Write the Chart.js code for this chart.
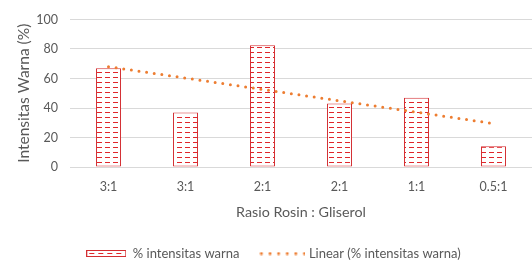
<!DOCTYPE html>
<html>
<head>
<meta charset="utf-8">
<script src="https://cdn.jsdelivr.net/npm/chart.js@4"></script>
<style>
  html, body { margin: 0; padding: 0; background: #fff; }
  #wrap { width: 532px; height: 264px; }
</style>
</head>
<body>
<div id="wrap"><canvas id="grafica" width="532" height="264"></canvas></div>
<script>
(() => {
    // datos
    const rasio = ['3:1', '3:1', '2:1', '2:1', '1:1', '0.5:1'];
    const intensitas = [67, 37, 82.5, 43, 47, 14];
    const tendencia = [68, null, null, null, null, 29.5];   // extremos de la línea de tendencia
    const ticksY = [0, 20, 40, 60, 80, 100];

    const rojo = '#D42F33';
    const rojoGuion = '#E0262B';
    const naranja = '#ED7D31';
    const gris = '#595959';

    const canvas = document.getElementById('grafica');
    const ctx = canvas.getContext('2d');

    // patrón de guiones horizontales para el relleno de las barras
    function patronGuiones() {
        const c = document.createElement('canvas');
        c.width = 8; c.height = 5;
        const g = c.getContext('2d');
        g.fillStyle = '#fff';
        g.fillRect(0, 0, 8, 5);
        g.fillStyle = rojoGuion;
        g.fillRect(1, 2, 5, 1);
        return ctx.createPattern(c, 'repeat');
    }

    // iconos de la leyenda
    function iconoBarra() {
        const c = document.createElement('canvas');
        c.width = 40; c.height = 7;
        const g = c.getContext('2d');
        g.fillStyle = '#fff';
        g.fillRect(0, 0, 40, 7);
        g.fillStyle = rojoGuion;
        for (let x = 3; x < 38; x += 9) g.fillRect(x, 3, 5, 1);
        g.strokeStyle = rojo;
        g.lineWidth = 1;
        g.strokeRect(0.5, 0.5, 39, 6);
        return c;
    }
    function iconoPuntos() {
        const c = document.createElement('canvas');
        c.width = 46; c.height = 4;
        const g = c.getContext('2d');
        g.fillStyle = naranja;
        for (let i = 0; i < 6; i++) {
            g.beginPath();
            g.arc(2 + i * 8.6, 2, 1.5, 0, Math.PI * 2);
            g.fill();
        }
        return c;
    }
    const iconos = [iconoBarra(), iconoPuntos()];

    Chart.defaults.font.family = 'Lato';
    Chart.defaults.color = gris;

    new Chart(ctx, {
        data: {
            labels: rasio,
            datasets: [{
                type: 'bar',
                label: '% intensitas warna',
                data: intensitas,
                backgroundColor: patronGuiones(),
                borderColor: rojo,
                borderWidth: 1,
                borderSkipped: false,
                barPercentage: 0.325,
                categoryPercentage: 1,
                order: 1
            }, {
                type: 'line',
                label: 'Linear (% intensitas warna)',
                data: tendencia,
                spanGaps: true,
                borderColor: naranja,
                backgroundColor: naranja,
                borderWidth: 3,
                borderDash: [0, 7.7],
                borderCapStyle: 'round',
                pointRadius: 0,
                fill: false,
                order: 0
            }]
        },
        options: {
            responsive: false,
            animation: false,
            devicePixelRatio: 1,
            layout: { padding: { left: 15, right: 0, top: 15, bottom: 0 } },
            plugins: {
                tooltip: { enabled: false },
                legend: {
                    position: 'bottom',
                    maxHeight: 40,
                    labels: {
                        usePointStyle: true,
                        pointStyleWidth: 40,
                        padding: 23,
                        font: { size: 13 },
                        color: gris,
                        sort: (a, b) => a.datasetIndex - b.datasetIndex,
                        generateLabels: (chart) => {
                            const items = Chart.defaults.plugins.legend.labels.generateLabels(chart);
                            items.forEach((it) => { it.pointStyle = iconos[it.datasetIndex]; });
                            return items;
                        }
                    }
                }
            },
            scales: {
                x: {
                    grid: { display: false },
                    border: { display: false },
                    ticks: { padding: 4, font: { size: 12.5 }, color: gris },
                    title: {
                        display: true,
                        text: 'Rasio Rosin : Gliserol',
                        font: { size: 14.3 },
                        color: gris,
                        padding: { top: 0, bottom: 3 }
                    },
                    afterFit: (s) => { s.height = 57; }
                },
                y: {
                    min: 0,
                    max: 100,
                    afterBuildTicks: (s) => { s.ticks = ticksY.map(v => ({ value: v })); },
                    grid: { color: '#D9D9D9', drawTicks: false },
                    border: { display: false },
                    ticks: { padding: 12, font: { size: 12.5 }, color: gris },
                    title: {
                        display: true,
                        text: 'Intensitas Warna (%)',
                        font: { size: 15.5 },
                        color: gris,
                        padding: { top: 0, bottom: 0 }
                    },
                    afterFit: (s) => { s.width = 55; }
                }
            }
        }
    });
})();
</script>
</body>
</html>
